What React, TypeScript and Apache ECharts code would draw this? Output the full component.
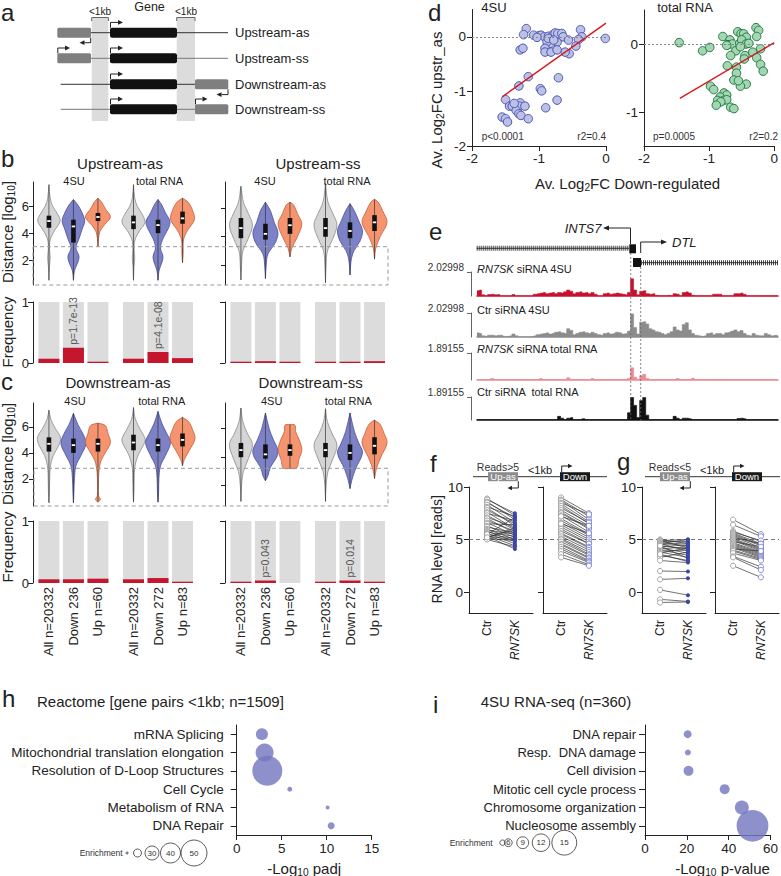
import React, { useEffect, useRef } from 'react';
import * as echarts from 'echarts';

const FONT = '"Liberation Sans", Arial, Helvetica, sans-serif';

// ===== Panels b/c: violins + frequency bars =====
const groupLabelsC = ['All n=20332', 'Down 236', 'Up n=60', 'All n=20332', 'Down 272', 'Up n=83'];
const violinPos = [1, 2, 3, 4.45, 5.45, 6.45];
const violinKind = [0, 1, 2, 0, 1, 2];

// quartiles [q1, median, q3]
const upAsQuart = [[4.4, 4.9, 5.3], [3.3, 4.5, 5.0], [4.9, 5.2, 5.5], [4.3, 4.8, 5.3], [4.0, 4.6, 5.0], [4.7, 5.1, 5.6]];
const upSsQuart = [[3.9, 4.6, 5.3], [3.8, 4.2, 4.9], [4.2, 4.8, 5.3], [4.0, 4.6, 5.3], [3.9, 4.4, 5.0], [4.4, 5.0, 5.5]];
const downAsQuart = [[4.1, 4.7, 5.2], [4.0, 4.6, 5.1], [4.1, 4.7, 5.1], [4.2, 4.8, 5.4], [4.1, 4.6, 5.1], [4.5, 5.0, 5.5]];
const downSsQuart = [[4.0, 4.5, 5.0], [3.9, 4.2, 4.9], [4.1, 4.5, 4.9], [4.0, 4.5, 5.0], [3.8, 4.3, 4.9], [4.2, 4.8, 5.4]];

// density outlines [value, relative half-width]
const upAsShape = [
  [[0.5, 0], [1.5, 0.04], [2.2, 0.1], [2.8, 0.05], [3.5, 0.1], [4.2, 0.45], [4.9, 0.9], [5.4, 0.7], [6.0, 0.3], [6.6, 0.1], [7.6, 0]],
  [[0.5, 0], [1.2, 0.08], [2.2, 0.45], [2.9, 0.2], [3.6, 0.45], [4.3, 0.7], [4.9, 0.9], [5.5, 0.7], [6.1, 0.35], [6.5, 0]],
  [[3.0, 0], [3.6, 0.05], [4.1, 0.15], [4.6, 0.5], [5.2, 1.0], [5.8, 0.6], [6.3, 0.3], [6.6, 0]],
  [[0.5, 0], [1.5, 0.04], [2.2, 0.1], [2.8, 0.05], [3.5, 0.12], [4.2, 0.5], [4.8, 0.92], [5.4, 0.7], [6.0, 0.3], [6.6, 0.1], [7.6, 0]],
  [[0.5, 0], [1.2, 0.08], [2.2, 0.4], [2.9, 0.2], [3.6, 0.4], [4.4, 0.85], [4.9, 0.95], [5.5, 0.6], [6.1, 0.3], [6.5, 0]],
  [[1.8, 0], [2.5, 0.05], [3.5, 0.08], [4.2, 0.4], [5.0, 0.95], [5.7, 0.8], [6.3, 0.45], [6.6, 0]],
];
const upSsShape = [
  [[1.0, 0], [2.0, 0.05], [3.0, 0.15], [3.8, 0.55], [4.8, 0.92], [5.6, 0.6], [6.4, 0.2], [7.5, 0]],
  [[1.1, 0], [2.0, 0.06], [2.8, 0.2], [3.6, 0.8], [4.3, 1.0], [5.0, 0.7], [5.8, 0.4], [6.4, 0]],
  [[2.6, 0], [3.2, 0.15], [4.0, 0.6], [4.9, 0.95], [5.6, 0.6], [6.2, 0.3], [6.4, 0]],
  [[0.8, 0], [2.0, 0.05], [3.0, 0.15], [3.8, 0.55], [4.8, 0.92], [5.6, 0.6], [6.4, 0.2], [7.7, 0]],
  [[1.35, 0], [2.3, 0.08], [3.0, 0.3], [3.7, 0.8], [4.4, 1.0], [5.1, 0.7], [5.8, 0.35], [6.3, 0]],
  [[2.45, 0], [3.2, 0.1], [4.0, 0.45], [5.0, 1.0], [5.8, 0.65], [6.4, 0.3], [6.6, 0]],
];
const downAsShape = [
  [[0.15, 0], [1.0, 0.04], [2.0, 0.06], [3.0, 0.12], [3.8, 0.35], [4.6, 0.8], [5.2, 0.92], [5.9, 0.5], [6.6, 0.15], [7.3, 0]],
  [[0.15, 0], [1.0, 0.04], [2.0, 0.08], [3.0, 0.2], [3.8, 0.6], [4.7, 1.0], [5.4, 0.8], [6.2, 0.35], [7.05, 0]],
  [[0.2, 0], [0.4, 0.2], [0.7, 0.05], [1.5, 0.04], [2.5, 0.07], [3.4, 0.25], [4.1, 0.65], [4.8, 1.0], [5.5, 0.8], [6.1, 0.6], [6.3, 0]],
  [[0.2, 0], [1.0, 0.04], [2.0, 0.06], [3.0, 0.12], [3.9, 0.4], [4.7, 0.85], [5.1, 0.92], [5.8, 0.55], [6.6, 0.15], [7.5, 0]],
  [[0.2, 0], [1.0, 0.05], [2.0, 0.07], [3.0, 0.2], [3.8, 0.6], [4.8, 1.0], [5.5, 0.7], [6.3, 0.3], [7.2, 0]],
  [[3.0, 0], [3.5, 0.15], [4.2, 0.55], [5.1, 1.0], [5.8, 0.8], [6.4, 0.5], [6.75, 0]],
];
const downSsShape = [
  [[0.9, 0], [2.0, 0.05], [3.0, 0.2], [3.9, 0.6], [4.9, 0.92], [5.7, 0.5], [6.5, 0.15], [7.45, 0]],
  [[2.35, 0], [2.7, 0.2], [3.3, 0.4], [4.0, 0.9], [4.5, 1.0], [5.2, 0.65], [6.0, 0.3], [7.1, 0]],
  [[3.2, 0], [3.25, 0.55], [3.8, 0.7], [4.5, 0.95], [5.2, 0.75], [5.8, 0.45], [6.25, 0.4], [6.3, 0]],
  [[0.9, 0], [2.0, 0.05], [3.0, 0.2], [3.9, 0.6], [4.85, 0.92], [5.7, 0.5], [6.5, 0.15], [7.4, 0]],
  [[1.8, 0], [2.4, 0.15], [3.2, 0.45], [4.3, 1.0], [5.0, 0.7], [5.8, 0.35], [7.1, 0]],
  [[2.5, 0], [3.2, 0.15], [4.0, 0.5], [5.0, 1.0], [5.7, 0.75], [6.3, 0.45], [6.6, 0]],
];

const upAsFreq = [0.07, 0.25, 0.01, 0.07, 0.18, 0.08];
const upAsP = ['', 'p=1.7e-13', '', '', 'p=4.1e-08', ''];
const upSsFreq = [0.02, 0.03, 0.02, 0.02, 0.02, 0.03];
const upSsP = ['', '', '', '', '', ''];
const downAsFreq = [0.06, 0.06, 0.07, 0.06, 0.08, 0.02];
const downAsP = ['', '', '', '', '', ''];
const downSsFreq = [0.02, 0.04, 0, 0.02, 0.04, 0.02];
const downSsP = ['', 'p=0.043', '', '', 'p=0.014', ''];

// ===== Panel d: scatter =====
const d4su = [[-1.19, 0.15], [-1.23, 0.04], [-1.08, 0.03], [-1.0, 0.02], [-0.97, 0.03], [-0.92, 0.0], [-0.86, 0.01], [-0.79, 0.04], [-0.76, 0.07], [-0.72, 0.06], [-0.66, 0.06], [-0.64, 0.0], [-0.56, -0.06], [-0.38, 0.13], [-0.36, 0.0], [-0.41, -0.05], [-0.45, -0.17], [-0.55, -0.31], [-0.61, -0.28], [-0.73, -0.1], [-0.83, -0.12], [-0.88, -0.09], [-0.91, -0.21], [-0.91, -0.28], [-0.82, -0.28], [-0.73, -0.24], [-0.86, -0.03], [-0.78, -0.06], [-1.03, -0.01], [-0.01, -0.03], [-1.28, -0.24], [-1.24, -0.21], [-1.16, -0.73], [-1.3, -0.9], [-0.98, -0.95], [-0.96, -0.99], [-0.71, -0.75], [-0.73, -1.16], [-0.9, -1.3], [-1.5, -1.15], [-1.44, -1.27], [-1.35, -1.28], [-1.4, -1.27], [-1.28, -1.21], [-1.29, -1.27], [-1.21, -1.27], [-1.34, -1.35], [-1.3, -1.41], [-1.27, -1.44], [-1.16, -1.5], [-1.55, -1.47], [-1.5, -1.5], [-1.47, -1.56], [-1.37, -1.22]];
const dTotal = [[-1.46, 0.02], [-1.1, -0.1], [-0.99, -0.05], [-0.79, 0.11], [-0.68, 0.06], [-0.56, 0.18], [-0.51, 0.15], [-0.47, 0.15], [-0.43, 0.1], [-0.28, 0.24], [-0.24, 0.2], [-0.27, 0.11], [-0.71, -0.01], [-0.64, 0.0], [-0.59, -0.1], [-0.53, 0.01], [-0.5, 0.06], [-0.43, 0.0], [-0.39, 0.01], [-0.52, -0.04], [-0.73, -0.02], [-0.67, -0.17], [-0.45, -0.17], [-0.46, -0.22], [-0.33, -0.12], [-0.27, -0.2], [-0.21, -0.07], [-0.21, -0.3], [-0.17, -0.4], [-0.72, -0.32], [-0.58, -0.34], [-0.58, -0.43], [-0.62, -0.53], [-0.43, -0.59], [-0.52, -0.62], [-0.98, -0.62], [-0.93, -0.67], [-0.77, -0.72], [-0.73, -0.75], [-0.83, -0.78], [-0.78, -0.83], [-0.73, -0.82], [-0.87, -0.83], [-0.82, -0.85], [-0.89, -0.9], [-0.67, -0.93], [-0.62, -0.95], [-0.55, -0.54]];
const reg4su = [[-1.55, -1.1], [0, 0.25]];
const regTotal = [[-1.45, -0.8], [0, 0.02]];

// ===== Panel e: coverage tracks =====
const trackRN7SK4su = [0.45, 0.5, 0.1, 0, 0.12, 0.15, 0.1, 0.12, 0, 0, 0, 0, 0.12, 0, 0, 0, 0, 0, 0, 0.15, 0.2, 0.25, 0.3, 0.2, 0.25, 0.3, 0.2, 0.3, 0.25, 0.35, 0.5, 0.4, 0.2, 0.3, 0.35, 0.25, 0.3, 0.2, 0.3, 0.15, 0, 0, 0.2, 0.25, 0.15, 0.2, 0.25, 0.2, 0.15, 0.1, 0.3, 1.45, 0.5, 0.1, 0.4, 0.45, 0.2, 0.15, 0.2, 0.05, 0, 0, 0, 0.05, 0, 0.2, 0.15, 0, 0.3, 0.35, 0.25, 0.05, 0, 0, 0, 0, 0, 0, 0.15, 0.15, 0.15, 0, 0, 0, 0, 0.2, 0.2, 0.25, 0.15, 0, 0, 0, 0, 0, 0, 0, 0, 0, 0, 0];
const trackCtr4su = [0.35, 0.3, 0.1, 0.05, 0.15, 0.15, 0.1, 0.15, 0.15, 0.05, 0.05, 0.1, 0.25, 0.1, 0, 0, 0, 0, 0.05, 0.1, 0.2, 0.25, 0.3, 0.35, 0.25, 0.3, 0.4, 0.45, 0.35, 0.3, 0.7, 0.55, 0.2, 0.3, 0.4, 0.45, 0.35, 0.3, 0.4, 0.3, 0.2, 0.15, 0.3, 0.35, 0.25, 0.3, 0.4, 0.35, 0.25, 0.3, 0.5, 1.95, 0.8, 0.25, 1.25, 1.3, 1.1, 0.7, 0.6, 0.45, 0.4, 0.3, 0.2, 0.3, 0.45, 0.85, 0.6, 0.5, 1.05, 1.2, 0.6, 0.3, 0.15, 0.1, 0.05, 0.1, 0.3, 0.35, 0.2, 0.3, 0.3, 0.2, 0.35, 0.4, 0.5, 0.6, 0.45, 0.55, 0.3, 0.15, 0.1, 0.3, 0.15, 0.1, 0.1, 0.3, 0.2, 0.1, 0.15, 0.1];
const trackRN7SKTotal = [0.03, 0.03, 0.03, 0.03, 0.03, 0.1, 0.03, 0.03, 0.03, 0.03, 0.03, 0.03, 0.03, 0.03, 0.03, 0.03, 0.03, 0.03, 0.03, 0.03, 0.03, 0.1, 0.03, 0.03, 0.03, 0.03, 0.03, 0.03, 0.03, 0.03, 0.15, 0.05, 0.03, 0.03, 0.03, 0.03, 0.03, 0.03, 0.1, 0.03, 0.03, 0.03, 0.03, 0.03, 0.03, 0.03, 0.03, 0.03, 0.03, 0.05, 0.1, 0.85, 0.2, 0.05, 0.3, 0.4, 0.1, 0.03, 0.03, 0.03, 0.03, 0.03, 0.03, 0.03, 0.03, 0.03, 0.1, 0.03, 0.03, 0.03, 0.03, 0.12, 0.03, 0.03, 0.03, 0.03, 0.03, 0.03, 0.03, 0.03, 0.03, 0.03, 0.03, 0.03, 0.03, 0.03, 0.03, 0.03, 0.03, 0.03, 0.03, 0.03, 0.03, 0.03, 0.03, 0.03, 0.03, 0.03, 0.03, 0.03];
const trackCtrTotal = [0.03, 0.03, 0.03, 0.03, 0.03, 0.03, 0.03, 0.03, 0.03, 0.03, 0.03, 0.03, 0.03, 0.03, 0.03, 0.03, 0.03, 0.03, 0.03, 0.03, 0.03, 0.03, 0.03, 0.03, 0.03, 0.03, 0.03, 0.3, 0.15, 0.03, 0.15, 0.2, 0.03, 0.03, 0.03, 0.1, 0.03, 0.03, 0.03, 0.03, 0.03, 0.03, 0.03, 0.03, 0.03, 0.03, 0.03, 0.03, 0.03, 0.03, 0.6, 1.85, 1.2, 0.2, 1.6, 1.85, 0.4, 0.03, 0.03, 0.03, 0.03, 0.03, 0.03, 0.03, 0.03, 0.3, 0.15, 0.03, 0.15, 0.15, 0.1, 0.03, 0.03, 0.03, 0.03, 0.03, 0.03, 0.03, 0.03, 0.03, 0.03, 0.03, 0.03, 0.03, 0.03, 0.03, 0.12, 0.15, 0.1, 0.03, 0.03, 0.03, 0.03, 0.03, 0.03, 0.03, 0.03, 0.03, 0.03, 0.03];
const trackScales = [2.02998, 2.02998, 1.89155, 1.89155];
const trackNames = ['{i|RN7SK} siRNA 4SU', 'Ctr siRNA 4SU', '{i|RN7SK} siRNA total RNA', 'Ctr siRNA  total RNA'];

// ===== Panels f/g: paired read levels [Ctr, RN7SK] =====
const fUpAs = [[8.9, 7.3], [8.8, 7.5], [8.6, 6.9], [8.5, 7.1], [8.3, 6.6], [8.1, 7.2], [8.0, 6.3], [7.8, 6.5], [7.6, 6.0], [7.5, 6.8], [7.3, 5.9], [7.1, 6.2], [7.0, 5.6], [6.8, 5.8], [6.6, 5.4], [6.5, 6.4], [6.3, 5.2], [6.2, 5.6], [6.0, 5.0], [5.9, 5.5], [5.8, 4.8], [5.7, 5.3], [5.6, 4.6], [5.5, 5.1], [5.4, 4.4], [5.3, 5.0], [5.3, 4.1], [5.2, 5.9], [5.1, 4.9], [5.0, 4.3], [5.5, 7.1], [5.2, 6.1]];
const fDown = [[9.0, 7.5], [8.8, 7.2], [8.7, 6.9], [8.5, 7.4], [8.4, 6.7], [8.2, 6.5], [8.0, 6.6], [7.8, 6.3], [7.6, 6.1], [7.5, 6.0], [7.3, 5.7], [7.0, 5.5], [6.8, 5.4], [6.6, 5.2], [6.4, 5.0], [6.2, 4.8], [6.0, 4.6], [5.8, 4.6], [5.6, 4.3], [5.5, 4.2], [5.3, 4.0], [5.1, 3.8], [5.0, 3.6], [4.8, 3.5], [4.6, 3.3], [4.5, 3.2], [4.3, 3.0], [4.1, 2.9], [3.9, 2.8], [3.6, 2.6], [3.3, 2.5], [7.2, 6.3], [6.5, 5.6]];
const gUpAs = [[5.0, 4.6], [4.9, 5.0], [4.9, 4.2], [4.8, 4.8], [4.7, 4.4], [4.6, 3.9], [4.6, 5.0], [4.5, 4.7], [4.4, 4.1], [4.3, 4.5], [4.2, 3.7], [4.1, 4.3], [4.0, 3.5], [3.9, 4.0], [3.8, 3.3], [3.7, 4.2], [3.5, 3.0], [3.3, 3.8], [3.0, 2.8], [2.0, 1.95], [1.2, 1.3], [0.2, -0.3], [-0.7, -0.9], [-1.0, -0.95], [4.4, 3.2], [3.6, 2.9]];
const gDown = [[6.9, 5.5], [6.4, 5.3], [5.8, 4.8], [5.7, 4.9], [5.6, 4.6], [5.5, 4.5], [5.4, 4.4], [5.3, 4.2], [5.2, 4.6], [5.1, 4.1], [5.0, 4.0], [4.9, 3.9], [4.8, 4.3], [4.7, 3.8], [4.6, 3.7], [4.5, 3.6], [4.4, 3.5], [4.3, 3.4], [4.2, 3.3], [4.1, 3.9], [4.0, 3.2], [3.9, 3.1], [3.7, 3.0], [3.4, 2.4], [3.3, 2.1], [2.5, 1.4]];

// ===== Panels h/i: enrichment bubbles =====
const hCats = ['mRNA Splicing', 'Mitochondrial translation elongation', 'Resolution of D-Loop Structures', 'Cell Cycle', 'Metabolism of RNA', 'DNA Repair'];
const hPadj = [2.8, 3.1, 3.4, 5.9, 10.1, 10.5];
const hEnrich = [26.7, 36.7, 56.7, 15, 13.3, 18.3];
const hLegend = [10, 20, 30, 40, 50];
const iCats = ['DNA repair', 'Resp.  DNA damage', 'Cell division', 'Mitotic cell cycle process', 'Chromosome organization', 'Nucleosome assembly'];
const iPval = [20.4, 20.5, 20.8, 38.1, 46.3, 51.4];
const iEnrich = [6.1, 3.9, 7.7, 7.7, 10.2, 17.4];
const iLegend = [3, 6, 9, 12, 15];

const hR = (e: number) => Math.max(1, 0.3 * e - 2);
const iR = (e: number) => 0.045 * e * e + 2.3;

const KIND_FILL = ['#d5d5d5', '#7d82c7', '#f5946f'];
const KIND_STROKE = ['#8a8a8a', '#4a4e9a', '#c0623f'];

function buildOption() {
  const grid: any[] = [], xAxis: any[] = [], yAxis: any[] = [], series: any[] = [];
  const G: any[] = [];
  const AX = '#222';
  const axisLine = { show: true, onZero: false, lineStyle: { color: AX, width: 1 } };
  const tick = (vals: number[], len = 4) => ({ show: true, customValues: vals, length: len, lineStyle: { color: AX, width: 1 } });
  const lab = (vals: number[], show = true, size = 13, margin = 5) => ({ show, customValues: vals, fontSize: size, margin, color: AX, fontFamily: FONT });
  const addGrid = (g: any) => { grid.push(g); return grid.length - 1; };

  // ---- graphic helpers
  const T = (x: number, y: number, text: string, o: any = {}) => {
    G.push({
      type: 'text', x, y, rotation: o.rot || 0, z: 50,
      style: {
        text, fill: o.color || '#222', fontSize: o.size || 12, fontFamily: FONT,
        fontStyle: o.italic ? 'italic' : 'normal',
        align: o.align || 'left', textAlign: o.align || 'left',
        verticalAlign: o.va || 'middle', textVerticalAlign: o.va || 'middle',
        rich: o.rich, lineHeight: o.lh,
      },
    });
  };
  const L = (x1: number, y1: number, x2: number, y2: number, stroke = '#222', w = 1, dash?: number[]) =>
    G.push({ type: 'line', z: 40, shape: { x1, y1, x2, y2 }, style: { stroke, lineWidth: w, lineDash: dash } });
  const R = (x: number, y: number, w: number, h: number, fill: string, r = 0, z = 40) =>
    G.push({ type: 'rect', z, shape: { x, y, width: w, height: h, r }, style: { fill } });
  const PL = (pts: number[][], stroke = '#222', w = 1) =>
    G.push({ type: 'polyline', z: 41, shape: { points: pts }, style: { stroke, lineWidth: w, fill: null } });
  const ARR = (pts: number[][], color = '#222', hl = 5, hw = 2.4) => {
    PL(pts, color, 1);
    const [x2, y2] = pts[pts.length - 1];
    const [x1] = pts[pts.length - 2];
    const dx = Math.sign(x2 - x1);
    G.push({ type: 'polygon', z: 41, shape: { points: [[x2 + dx * hl, y2], [x2, y2 - hw], [x2, y2 + hw]] }, style: { fill: color } });
  };
  const subRich = (fs: number) => ({ s: { fontSize: fs * 0.68, verticalAlign: 'bottom', lineHeight: fs * 0.62, fontFamily: FONT, fill: '#222' } });
  const itRich = (fs: number) => ({ i: { fontStyle: 'italic', fontSize: fs, fontFamily: FONT, fill: '#222' } });

  // ===== Panel a =====
  R(91.7, 18, 16.6, 103, '#dcdcdc', 0, 30);
  R(176.7, 18, 18.3, 103, '#dcdcdc', 0, 30);
  PL([[91.7, 21], [91.7, 17.5], [108.3, 17.5], [108.3, 21]], '#666');
  PL([[176.7, 21], [176.7, 17.5], [195, 17.5], [195, 21]], '#666');
  T(100, 11.5, '<1kb', { size: 10, align: 'center' });
  T(186, 11.5, '<1kb', { size: 10, align: 'center' });
  T(149.5, 7, 'Gene', { size: 12.5, align: 'center' });
  const rowsY = [32.7, 58.3, 84.3, 109.3];
  L(91, rowsY[0], 228, rowsY[0], '#333');
  L(91, rowsY[1], 228, rowsY[1], '#777');
  L(60.7, rowsY[2], 195, rowsY[2], '#333');
  L(60.7, rowsY[3], 195, rowsY[3], '#777');
  R(57.3, rowsY[0] - 5, 33.7, 10, '#7f7f7f', 1.5);
  R(57.3, rowsY[1] - 5, 33.7, 10, '#7f7f7f', 1.5);
  R(195, rowsY[2] - 5, 33.3, 10, '#7f7f7f', 1.5);
  R(195, rowsY[3] - 5, 33.3, 10, '#7f7f7f', 1.5);
  rowsY.forEach((y) => {
    R(110, y - 5, 67, 10, '#111', 2);
    ARR([[110.5, y - 5], [110.5, y - 10.3], [118, y - 10.3]]);
  });
  ARR([[90.7, rowsY[0] + 5], [90.7, rowsY[0] + 10], [84.5, rowsY[0] + 10]]);
  ARR([[57.8, rowsY[1] - 5], [57.8, rowsY[1] - 10.3], [65, rowsY[1] - 10.3]]);
  ARR([[228, rowsY[2] + 5], [228, rowsY[2] + 10.3], [221.5, rowsY[2] + 10.3]]);
  ARR([[195.5, rowsY[3] - 5], [195.5, rowsY[3] - 10.3], [202.5, rowsY[3] - 10.3]]);
  T(235, rowsY[0], 'Upstream-as', { size: 13 });
  T(235, rowsY[1], 'Upstream-ss', { size: 13 });
  T(235, rowsY[2], 'Downstream-as', { size: 13 });
  T(235, rowsY[3], 'Downstream-ss', { size: 13 });

  // panel letters (baseline positions)
  const LET = 24;
  const letters: [string, number, number][] = [['a', 1, 21], ['b', 1, 166.7], ['c', 1, 390], ['d', 428, 19.5], ['e', 429, 240], ['f', 430, 471.7], ['g', 617, 470], ['h', 2, 707], ['i', 433, 712.7]];
  letters.forEach(([t, x, b]) => T(x, Math.max(12, b - 0.35 * LET), t, { size: LET }));

  // ===== Panels b/c =====
  const violinPanel = (left: number, top: number, ymin: number, ymax: number, showLab: boolean, quart: number[][], shape: number[][][]) => {
    const gi = addGrid({ left, top, width: 163, height: 103 });
    xAxis.push({ gridIndex: gi, type: 'value', min: 0.35, max: 7, show: false });
    yAxis.push({ gridIndex: gi, type: 'value', min: ymin, max: ymax, axisLine, axisTick: tick([2, 4, 6]), axisLabel: lab([2, 4, 6], showLab, 13, 4), splitLine: { show: false } });
    series.push({
      type: 'custom', xAxisIndex: gi, yAxisIndex: gi, clip: false, z: 5,
      data: quart.map((q, i) => [violinPos[i], q[1], i]),
      encode: { x: 0, y: 1 },
      renderItem: (_p: any, api: any) => {
        const i = api.value(2);
        const pos = violinPos[i];
        const q = quart[i];
        const k = shape[i];
        const kind = violinKind[i];
        const H = 12.5;
        const cx = api.coord([pos, q[1]])[0];
        const py = (v: number) => api.coord([pos, v])[1];
        const rightSide = k.map(([v, w]) => [cx + w * H, py(v)]);
        const leftSide = k.slice().reverse().map(([v, w]) => [cx - w * H, py(v)]);
        const yq1 = py(q[0]), ymed = py(q[1]), yq3 = py(q[2]);
        return {
          type: 'group', children: [
            { type: 'polygon', shape: { points: rightSide.concat(leftSide), smooth: 0.35 }, style: { fill: KIND_FILL[kind], stroke: KIND_STROKE[kind], lineWidth: 0.8 } },
            { type: 'line', shape: { x1: cx, y1: py(k[0][0]), x2: cx, y2: py(k[k.length - 1][0]) }, style: { stroke: '#333', lineWidth: 0.7 } },
            { type: 'rect', shape: { x: cx - 2.3, y: yq3, width: 4.6, height: yq1 - yq3 }, style: { fill: '#111' } },
            { type: 'rect', shape: { x: cx - 1.7, y: ymed - 0.9, width: 3.4, height: 1.8 }, style: { fill: '#fff' } },
          ],
        };
      },
    });
  };
  const freqPanel = (left: number, top: number, height: number, showLab: boolean, vals: number[], pl: string[], xLabels: string[] | null) => {
    const gi = addGrid({ left, top, width: 163, height });
    xAxis.push({ gridIndex: gi, type: 'value', min: 0.35, max: 7, show: false });
    yAxis.push({ gridIndex: gi, type: 'value', min: 0, max: 1, axisLine, axisTick: tick([0, 1], 5), axisLabel: lab([0, 1], showLab, 13, 4), splitLine: { show: false } });
    series.push({
      type: 'custom', xAxisIndex: gi, yAxisIndex: gi, clip: false,
      data: vals.map((v, i) => [violinPos[i], v, i]),
      encode: { x: 0, y: 1 },
      renderItem: (_p: any, api: any) => {
        const x = api.value(0), v = api.value(1), i = api.value(2);
        const topP = api.coord([x, 1]), base = api.coord([x, 0]), red = api.coord([x, v]);
        const w = 21;
        const ch: any[] = [{ type: 'rect', shape: { x: topP[0] - w / 2, y: topP[1], width: w, height: base[1] - topP[1] }, style: { fill: '#dcdcdc' } }];
        if (v > 0) ch.push({ type: 'rect', shape: { x: topP[0] - w / 2, y: Math.min(red[1], base[1] - 1.3), width: w, height: Math.max(1.3, base[1] - red[1]) }, style: { fill: '#c4172e' } });
        if (pl[i]) ch.push({ type: 'text', x: topP[0], y: red[1] - 3, rotation: Math.PI / 2, style: { text: pl[i], align: 'left', textAlign: 'left', verticalAlign: 'middle', textVerticalAlign: 'middle', fontSize: 10.5, fontFamily: FONT, fill: '#555' } });
        if (xLabels) ch.push({ type: 'text', x: topP[0], y: base[1] + 4, rotation: Math.PI / 2, style: { text: xLabels[i], align: 'right', textAlign: 'right', verticalAlign: 'middle', textVerticalAlign: 'middle', fontSize: 13, fontFamily: FONT, fill: '#222' } });
        return { type: 'group', children: ch };
      },
    });
  };
  violinPanel(33, 182, 0.15, 7.8, true, upAsQuart, upAsShape);
  violinPanel(225, 182, 0.65, 7.8, false, upSsQuart, upSsShape);
  freqPanel(33, 302, 61, true, upAsFreq, upAsP, null);
  freqPanel(225, 302, 61, false, upSsFreq, upSsP, null);
  violinPanel(33, 403, -0.1, 7.85, true, downAsQuart, downAsShape);
  violinPanel(225, 403, 0.58, 7.8, false, downSsQuart, downSsShape);
  freqPanel(33, 521, 62, true, downAsFreq, downAsP, groupLabelsC);
  freqPanel(225, 521, 62, false, downSsFreq, downSsP, groupLabelsC);

  // dashed boxes
  G.push({ type: 'rect', z: 45, shape: { x: 33, y: 246.7, width: 355, height: 38.3 }, style: { fill: null, stroke: '#999', lineWidth: 1, lineDash: [4, 3] } });
  G.push({ type: 'rect', z: 45, shape: { x: 34, y: 468.3, width: 354, height: 37.7 }, style: { fill: null, stroke: '#999', lineWidth: 1, lineDash: [4, 3] } });

  T(120, 163.3, 'Upstream-as', { size: 15, align: 'center' });
  T(318, 163.3, 'Upstream-ss', { size: 15, align: 'center' });
  T(118, 382.7, 'Downstream-as', { size: 15, align: 'center' });
  T(310.7, 382.7, 'Downstream-ss', { size: 15, align: 'center' });
  [[74, 180.5, '4SU'], [159.5, 180.5, 'total RNA'], [265, 180.5, '4SU'], [347, 180.5, 'total RNA'], [75, 400.7, '4SU'], [161.7, 400.7, 'total RNA'], [271.7, 400.7, '4SU'], [348.3, 400.7, 'total RNA']]
    .forEach(([x, y, t]) => T(x as number, y as number, t as string, { size: 11, align: 'center' }));
  T(7.5, 232, 'Distance [log{s|10}]', { size: 15, align: 'center', rot: Math.PI / 2, rich: subRich(15), lh: 18 });
  T(7.5, 454, 'Distance [log{s|10}]', { size: 15, align: 'center', rot: Math.PI / 2, rich: subRich(15), lh: 18 });
  T(7.5, 332, 'Frequency', { size: 15, align: 'center', rot: Math.PI / 2 });
  T(7.5, 547, 'Frequency', { size: 15, align: 'center', rot: Math.PI / 2 });

  // ===== Panel d =====
  const scatterPanel = (left: number, top: number, height: number, ymin: number, yticks: number[], pts: number[][], reg: number[][], fill: string, stroke: string) => {
    const gi = addGrid({ left, top, width: 134, height });
    xAxis.push({ gridIndex: gi, type: 'value', min: -2, max: 0, axisLine, axisTick: tick([-2, -1, 0], 5), axisLabel: lab([-2, -1, 0], true, 13.5, 5), splitLine: { show: false } });
    yAxis.push({ gridIndex: gi, type: 'value', min: ymin, max: 0.5, axisLine, axisTick: tick(yticks, 5), axisLabel: lab(yticks, true, 13.5, 6), splitLine: { show: false } });
    series.push({
      type: 'scatter', xAxisIndex: gi, yAxisIndex: gi, data: pts, symbolSize: 8.5, z: 3,
      itemStyle: { color: fill, borderColor: stroke, borderWidth: 1, opacity: 1 },
      markLine: { silent: true, symbol: 'none', label: { show: false }, lineStyle: { type: [2, 2], color: '#888', width: 1 }, data: [{ yAxis: 0 }] },
    });
    series.push({ type: 'line', xAxisIndex: gi, yAxisIndex: gi, data: reg, symbol: 'none', z: 4, lineStyle: { color: '#d7191c', width: 1.4 } });
  };
  scatterPanel(472, 9.5, 136.5, -2, [-2, -1, 0], d4su, reg4su, '#bcc0e4', '#4c56b3');
  scatterPanel(644, 10, 136, -1.5, [-1, 0], dTotal, regTotal, '#a5d6b4', '#1f7a40');
  T(494, 7.5, '4SU', { size: 13, align: 'center' });
  T(685, 7.5, 'total RNA', { size: 13, align: 'center' });
  T(436, 100, 'Av. Log{s|2}FC upstr_as', { size: 15, align: 'center', rot: Math.PI / 2, rich: subRich(15), lh: 18 });
  T(627.5, 183.3, 'Av. Log{s|2}FC Down-regulated', { size: 15, align: 'center', rich: subRich(15), lh: 18 });
  T(481.7, 136.7, 'p<0.0001', { size: 10, color: '#333' });
  T(606, 136.7, 'r2=0.4', { size: 10, color: '#333', align: 'right' });
  T(653, 136.7, 'p=0.0005', { size: 10, color: '#333' });
  T(778, 136.7, 'r2=0.2', { size: 10, color: '#333', align: 'right' });

  // ===== Panel e =====
  const tracks = [trackRN7SK4su, trackCtr4su, trackRN7SKTotal, trackCtrTotal];
  const trackColors = ['#c8102e', '#8c8c8c', '#ec8a92', '#111111'];
  const trackTops = [272, 313, 353, 397];
  const trackHeights = [24, 24, 27, 23];
  const trackLabelY = [269, 310, 348.5, 392];
  tracks.forEach((vals, t) => {
    const gi = addGrid({ left: 477, top: trackTops[t], width: 301, height: trackHeights[t] });
    xAxis.push({ gridIndex: gi, type: 'category', boundaryGap: false, data: vals.map((_, i) => i), axisLine: { show: true, lineStyle: { color: trackColors[t], width: 1.5 } }, axisTick: { show: false }, axisLabel: { show: false } });
    yAxis.push({ gridIndex: gi, type: 'value', min: 0, max: trackScales[t], offset: 6, axisLine: { show: true, lineStyle: { color: '#666', width: 1 } }, axisTick: { show: true, customValues: [trackScales[t]], length: 4, lineStyle: { color: '#666' } }, axisLabel: { show: true, customValues: [trackScales[t]], fontSize: 10, margin: 7, color: '#333', fontFamily: FONT, verticalAlign: 'bottom' }, splitLine: { show: false } });
    series.push({
      type: 'line', xAxisIndex: gi, yAxisIndex: gi, data: vals, step: 'middle', symbol: 'none',
      lineStyle: { color: trackColors[t], width: 0.6 }, areaStyle: { color: trackColors[t], opacity: 1 },
    });
    T(477, trackLabelY[t], trackNames[t], { size: 11, rich: itRich(11) });
  });
  // gene models
  L(476.7, 248.3, 629, 248.3, '#444', 5, [1, 1]);
  L(476.7, 248.3, 629, 248.3, '#333', 1);
  R(629.3, 244.3, 6.7, 9, '#111');
  L(641, 262.7, 778, 262.7, '#444', 5, [1, 1]);
  L(641, 262.7, 778, 262.7, '#333', 1);
  R(633, 258, 8, 9, '#111');
  ARR([[630.5, 244], [630.5, 228], [609, 228]], '#222', 6, 2.4);
  ARR([[640.7, 253], [640.7, 242], [661, 242]], '#222', 6, 2.4);
  T(601.5, 228, 'INTS7', { size: 13, italic: true, align: 'right' });
  T(672, 242.5, 'DTL', { size: 13, italic: true });
  L(630.7, 253, 630.7, 421, '#666', 0.8, [2, 2]);
  L(640.7, 267, 640.7, 421, '#666', 0.8, [2, 2]);

  // ===== Panels f/g =====
  const pairPanel = (left: number, showLab: boolean, pairs: number[][], filledRN: boolean) => {
    const gi = addGrid({ left, top: 487, width: 64, height: 126 });
    xAxis.push({
      gridIndex: gi, type: 'value', min: -0.65, max: 1.65, axisLine, axisTick: { show: false },
      axisLabel: { show: true, customValues: [0, 1], rotate: 90, fontSize: 12, margin: 7, color: AX, fontFamily: FONT, formatter: (v: number) => (v === 0 ? 'Ctr' : '{i|RN7SK}'), rich: itRich(12) },
      splitLine: { show: false },
    });
    yAxis.push({ gridIndex: gi, type: 'value', min: -2, max: 10, axisLine, axisTick: tick([0, 5, 10], 5), axisLabel: lab([0, 5, 10], showLab, 13.5, 6), splitLine: { show: false } });
    series.push({
      type: 'custom', xAxisIndex: gi, yAxisIndex: gi, clip: false, z: 5,
      data: pairs.map((p) => [0, p[0], 1, p[1]]),
      encode: { x: [0, 2], y: [1, 3] },
      renderItem: (_p: any, api: any) => {
        const a = api.coord([api.value(0), api.value(1)]);
        const b = api.coord([api.value(2), api.value(3)]);
        return {
          type: 'group', children: [
            { type: 'line', shape: { x1: a[0], y1: a[1], x2: b[0], y2: b[1] }, style: { stroke: '#333', lineWidth: 0.7 } },
            { type: 'circle', shape: { cx: a[0], cy: a[1], r: 2.6 }, style: { fill: '#fff', stroke: '#999', lineWidth: 0.9 } },
            filledRN
              ? { type: 'circle', shape: { cx: b[0], cy: b[1], r: 2.0 }, style: { fill: '#3c46a6' } }
              : { type: 'circle', shape: { cx: b[0], cy: b[1], r: 2.6 }, style: { fill: '#fff', stroke: '#7a82cf', lineWidth: 0.9 } },
          ],
        };
      },
      markLine: { silent: true, symbol: 'none', label: { show: false }, lineStyle: { type: [4, 3], color: '#777', width: 1 }, data: [{ yAxis: 5 }] },
    });
  };
  pairPanel(469, true, fUpAs, true);
  pairPanel(543, false, fDown, false);
  pairPanel(642, true, gUpAs, true);
  pairPanel(715, false, gDown, false);
  T(436.7, 549.3, 'RNA level [reads]', { size: 14, align: 'center', rot: Math.PI / 2 });
  const header = (dx: number, label: string, right: number) => {
    L(473 + dx, 476.7, right, 476.7, '#333', 1);
    R(488 + dx, 472.2, 30, 9, '#8c8c8c', 0, 42);
    T(503 + dx, 476.9, 'Up-as', { size: 9.5, align: 'center', color: '#fff' });
    ARR([[518.3 + dx, 481.2], [518.3 + dx, 488], [512 + dx, 488]], '#222', 4.5, 2.2);
    R(560 + dx, 472.2, 30, 9, '#1a1a1a', 0, 42);
    T(575 + dx, 476.9, 'Down', { size: 9.5, align: 'center', color: '#fff' });
    ARR([[561.7 + dx, 472.2], [561.7 + dx, 466], [568 + dx, 466]], '#222', 4.5, 2.2);
    T(498 + dx, 467, label, { size: 10.5, align: 'center', color: '#333' });
    T(540 + dx, 469.5, '<1kb', { size: 11, align: 'center' });
  };
  header(0, 'Reads>5', 607);
  header(172, 'Reads<5', 780);

  // ===== Panels h/i =====
  const bubblePanel = (left: number, width: number, max: number, ticks: number[], cats: string[], xs: number[], en: number[], rf: (e: number) => number, margin: number, fs: number) => {
    const gi = addGrid({ left, top: 725, width, height: 110 });
    xAxis.push({ gridIndex: gi, type: 'value', min: 0, max, axisLine, axisTick: tick(ticks, 5), axisLabel: lab(ticks, true, 13.5, 6), splitLine: { show: false } });
    yAxis.push({ gridIndex: gi, type: 'category', data: cats, inverse: true, axisLine, axisTick: { show: true, alignWithLabel: true, length: 6, lineStyle: { color: AX } }, axisLabel: { fontSize: fs, margin, color: AX, fontFamily: FONT }, splitLine: { show: false } });
    series.push({
      type: 'scatter', xAxisIndex: gi, yAxisIndex: gi,
      data: cats.map((c, i) => [xs[i], c, en[i]]),
      symbolSize: (v: any) => 2 * rf(v[2]),
      itemStyle: { color: '#7478c0', opacity: 0.82 },
    });
  };
  bubblePanel(236.7, 135, 15, [0, 5, 10, 15], hCats, hPadj, hEnrich, hR, 13, 13.5);
  bubblePanel(645, 139, 60, [0, 20, 40, 60], iCats, iPval, iEnrich, iR, 9, 13);
  T(37, 701.7, 'Reactome [gene pairs <1kb; n=1509]', { size: 15 });
  T(480.7, 701.7, '4SU RNA-seq (n=360)', { size: 15 });
  T(304.2, 868, '-Log{s|10} padj', { size: 15, align: 'center', rich: subRich(15), lh: 18 });
  T(722.5, 868, '-Log{s|10} p-value', { size: 15, align: 'center', rich: subRich(15), lh: 18 });
  // enrichment legends
  const legend = (xs: number[], y: number, vals: number[], rf: (e: number) => number, labelFrom: number, textRight: number) => {
    T(textRight, y, 'Enrichment', { size: 8.5, align: 'right', color: '#333' });
    vals.forEach((v, i) => {
      G.push({ type: 'circle', z: 45, shape: { cx: xs[i], cy: y, r: rf(v) }, style: { fill: null, stroke: '#333', lineWidth: 0.8 } });
      if (i >= labelFrom) T(xs[i], y, String(v), { size: 8, align: 'center', color: '#333' });
    });
  };
  legend([127, 137.5, 152, 170.5, 194], 853, hLegend, hR, 2, 122.7);
  legend([502.5, 508.3, 522.7, 541, 564.3], 842.7, iLegend, iR, 1, 492.7);

  return {
    animation: false,
    backgroundColor: '#fff',
    textStyle: { fontFamily: FONT },
    grid, xAxis, yAxis, series,
    graphic: { elements: G },
  };
}

export default function App() {
  const ref = useRef<HTMLDivElement>(null);
  useEffect(() => {
    document.body.style.margin = '0';
    const chart = echarts.init(ref.current!, null, { renderer: 'svg' });
    chart.setOption(buildOption() as any);
    return () => chart.dispose();
  }, []);
  return <div ref={ref} style={{ width: 781, height: 876 }} />;
}
